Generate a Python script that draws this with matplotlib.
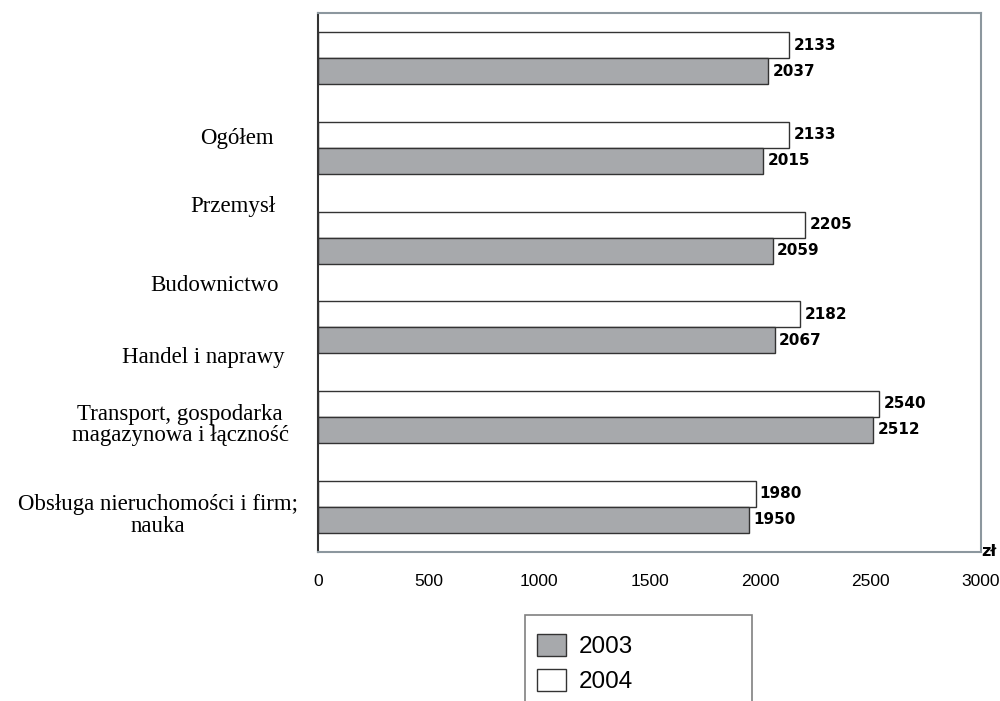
import numpy as np
import matplotlib.pyplot as plt
import matplotlib.transforms as mtransforms
from matplotlib.patches import Rectangle

# values in zł, top group first
categories = ["", "Ogółem", "Przemysł", "Budownictwo", "Handel i naprawy",
              "Transport, gospodarka\nmagazynowa i łączność",
              "Obsługa nieruchomości i firm;\nnauka"]
vals_2004 = [2133, 2133, 2205, 2182, 2540, 1980]
vals_2003 = [2037, 2015, 2059, 2067, 2512, 1950]
xticks = [0, 500, 1000, 1500, 2000, 2500, 3000]

# where the (shifted) category labels sit: figure-x centre (px), data-y
label_x = [237, 233, 215, 203, 180, 158]
label_y = [1.40, 2.15, 3.03, 3.84, 4.59, 5.60]

fig = plt.figure(figsize=(10, 7.01), dpi=100)
ax = fig.add_axes([0.318, 1 - 551.5 / 701, 0.663, (551.5 - 13.3) / 701])

pos = np.arange(len(vals_2004)) + 0.5
h = 0.29
b04 = ax.barh(pos - h / 2, vals_2004, height=h, color='white', edgecolor='#333333', lw=1, label='2004')
b03 = ax.barh(pos + h / 2, vals_2003, height=h, color='#a7a9ac', edgecolor='#333333', lw=1, label='2003')

for p, v in zip(pos, vals_2004):
    ax.annotate(str(v), (v, p - h / 2), xytext=(3, 0), textcoords='offset points',
                va='center', ha='left', fontsize=11, fontweight='bold', family='DejaVu Sans')
for p, v in zip(pos, vals_2003):
    ax.annotate(str(v), (v, p + h / 2), xytext=(3, 0), textcoords='offset points',
                va='center', ha='left', fontsize=11, fontweight='bold', family='DejaVu Sans')

ax.set_xlim(0, 3000)
ax.set_ylim(6, 0)
ax.set_yticks([])
ax.set_xticks(xticks)
ax.set_xticklabels([str(t) for t in xticks], family='Liberation Sans', fontsize=12.5)
ax.tick_params(axis='x', length=0, pad=16)
ax.set_xticks([0], minor=True)
ax.tick_params(axis='x', which='minor', length=5, width=1.2, color='#333333')

for s in ['top', 'right', 'bottom']:
    ax.spines[s].set_color('#8c979e')
    ax.spines[s].set_linewidth(1.5)
ax.spines['left'].set_color('#333333')
ax.spines['left'].set_linewidth(1.5)

ax.text(1.0, 0.0, 'zł', transform=ax.transAxes, ha='left', va='center',
        fontsize=11.5, fontweight='bold', family='DejaVu Sans')

tr = mtransforms.blended_transform_factory(fig.transFigure, ax.transData)
for lab, lx, ly in zip(categories[1:], label_x, label_y):
    ax.text(lx / 1000, ly, lab, transform=tr, ha='center', va='center',
            multialignment='center', fontsize=16.5, family='Liberation Serif',
            linespacing=1.05)

# legend box runs off the bottom of the picture
fig.patches.append(Rectangle((525 / 1000, 1 - 715 / 701), 227 / 1000, 100 / 701,
                             transform=fig.transFigure, fill=False,
                             edgecolor='#808080', lw=1.2))
leg = fig.legend([b03, b04], ['2003', '2004'], loc='upper left',
                 bbox_to_anchor=(0.537, 1 - 634 / 701), borderaxespad=0,
                 prop={'family': 'Liberation Sans', 'size': 17.5},
                 frameon=False, borderpad=0, handlelength=1.2, handleheight=1.0,
                 handletextpad=0.5, labelspacing=0.45)

plt.savefig('out.png', dpi=100)
